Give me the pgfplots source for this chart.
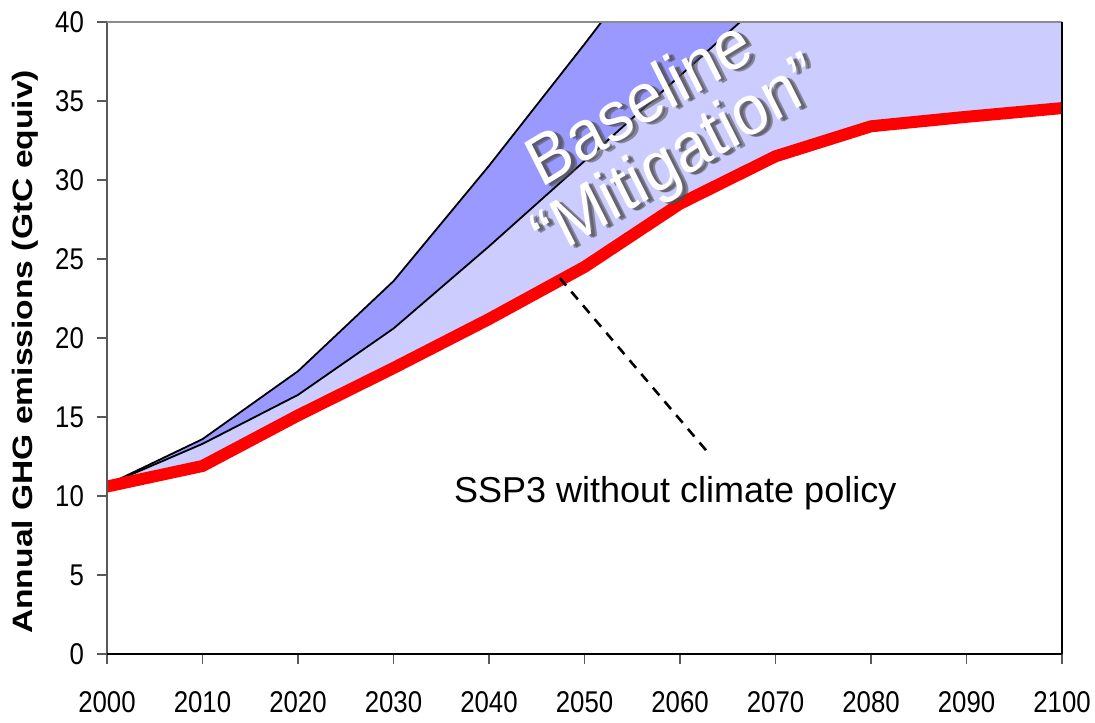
\documentclass[border=0pt]{standalone}
\usepackage{fontspec}
\setmainfont{Liberation Sans}
\newfontfamily\ylabfont[FakeStretch=1.2]{Liberation Sans}
\newfontfamily\tickfont[FakeStretch=0.86]{Liberation Sans}
\usepackage{pgfplots}
\pgfplotsset{compat=1.18}
\definecolor{darkfill}{HTML}{9999FF}
\definecolor{lightfill}{HTML}{CCCCFF}
\definecolor{axgray}{HTML}{8C8C8C}
\tikzset{bigtxt/.style={yscale=1.1, rotate=29, font=\fontsize{32}{34}\selectfont},
  shadowtxt/.style={bigtxt, text=black!70, opacity=0.55, xshift=#1, yshift=-#1}}
\begin{document}
\begin{tikzpicture}
\path[use as bounding box] (0,0) rectangle (547.5pt,361pt);
\begin{axis}[
  at={(53.5pt,34pt)}, anchor=south west,
  scale only axis, width=477.5pt, height=316pt,
  xmin=2000, xmax=2100, ymin=0, ymax=40,
  xtick={2000,2010,...,2100}, ytick={0,5,...,40},
  axis line style={draw=none},
  tick style={draw=black!65, line width=0.6pt},
  tick align=outside, major tick length=5pt,
  xtick pos=bottom, ytick pos=left,
  /pgf/number format/assume math mode=true,
  /pgf/number format/1000 sep={},
  xticklabel style={font=\tickfont\fontsize{15}{17}\selectfont, yshift=-10pt},
  yticklabel style={font=\tickfont\fontsize{15}{17}\selectfont, xshift=-3pt},
  ylabel={Annual GHG emissions (GtC equiv)},
  ylabel style={at={(axis description cs:-0.0859,0.478)}, anchor=center,
    font=\ylabfont\bfseries\fontsize{14}{16}\selectfont},
  clip mode=individual,
]
% dark area: between Baseline and Mitigation
\addplot[fill=darkfill, draw=none] coordinates {
(2000,10.7) (2010,13.6) (2020,17.9) (2030,23.6) (2040,30.9) (2050,38.6) (2060,46.5)
(2070,42.0) (2060,36.6) (2050,31.2) (2040,25.8) (2030,20.6) (2020,16.4) (2010,13.3) (2000,10.7)} -- cycle;
% light area: between Mitigation and SSP3
\addplot[fill=lightfill, draw=none] coordinates {
(2000,10.7) (2010,13.3) (2020,16.4) (2030,20.6) (2040,25.8) (2050,31.2) (2060,36.6) (2070,42.0) (2100,42.0)
(2100,34.55) (2090,34.0) (2080,33.4) (2070,31.5) (2060,28.5) (2050,24.5) (2040,21.2) (2030,18.1) (2020,15.1) (2010,11.9) (2000,10.6)} -- cycle;
% Baseline
\addplot[black, line width=0.9pt] coordinates {
(2000,10.7) (2010,13.6) (2020,17.9) (2030,23.6) (2040,30.9) (2050,38.6) (2060,46.5)};
% Mitigation
\addplot[black, line width=0.9pt] coordinates {
(2000,10.7) (2010,13.3) (2020,16.4) (2030,20.6) (2040,25.8) (2050,31.2) (2060,36.6) (2070,42.0)};
% SSP3 without climate policy
\addplot[red, line width=6pt] coordinates {
(2000,10.6) (2010,11.9) (2020,15.1) (2030,18.1) (2040,21.2) (2050,24.5) (2060,28.5) (2070,31.5) (2080,33.4) (2090,34.0) (2100,34.55)};
\addplot[black, line width=1.3pt, dash pattern=on 5pt off 4pt] coordinates {(2047.4,23.8) (2063,12.7)};
% frame
\draw[black!65, line width=0.6pt] (rel axis cs:0,0) -- (rel axis cs:0,1);
\draw[axgray, line width=1pt] (rel axis cs:0,1) -- (rel axis cs:1,1);
\draw[black, line width=1pt] (rel axis cs:1,1) -- (rel axis cs:1,0);
\draw[black, line width=1.1pt] (rel axis cs:0,0) -- (rel axis cs:1,0);
% annotations
\node[shadowtxt=2.2pt] at (axis cs:2055.6,35.0) {Baseline};
\node[shadowtxt=1.4pt] at (axis cs:2055.6,35.0) {Baseline};
\node[bigtxt, text=white] at (axis cs:2055.6,35.0) {Baseline};
\node[shadowtxt=2.2pt] at (axis cs:2059.8,31.2) {“Mitigation”};
\node[shadowtxt=1.4pt] at (axis cs:2059.8,31.2) {“Mitigation”};
\node[bigtxt, text=white] at (axis cs:2059.8,31.2) {“Mitigation”};
\node[font=\fontsize{18}{20}\selectfont] at (axis cs:2059.5,10.2) {SSP3 without climate policy};
\end{axis}
\end{tikzpicture}
\end{document}
